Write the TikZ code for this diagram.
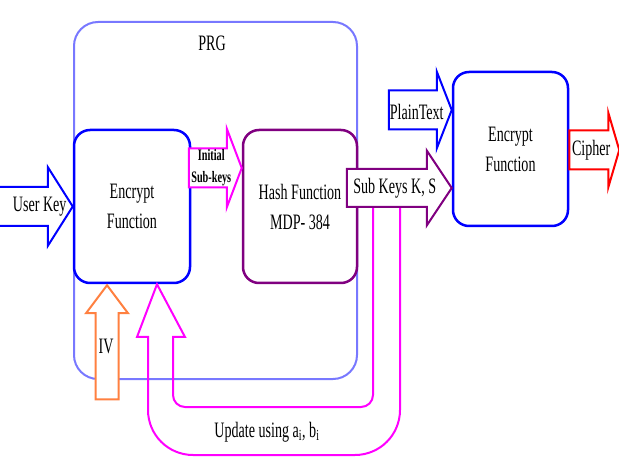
\documentclass[tikz,border=0pt]{standalone}
\usepackage{fontspec}
\setmainfont{Liberation Serif}[FakeStretch=0.64]
\usetikzlibrary{calc}

\definecolor{prgblue}{RGB}{120,120,255}
\definecolor{keypurple}{RGB}{128,0,128}
\definecolor{ivorange}{RGB}{255,128,64}
\definecolor{updmagenta}{RGB}{255,0,255}

% block arrow: style, tip, angle, length, shaft half width, head half width, head length
\newcommand\blockarrow[7]{%
  \draw[#1, shift={(#2)}, rotate=#3] (0,0) -- (-#7,-#6) -- (-#7,-#5) -- (-#4,-#5)
    -- (-#4,#5) -- (-#7,#5) -- (-#7,#6) -- cycle;}

\begin{document}
\begin{tikzpicture}[x=1pt, y=-1pt,
    every node/.style={font=\fontsize{22}{30}\selectfont},
    fnbox/.style={draw, rectangle, rounded corners=16pt, line width=2.5pt,
      minimum width=116pt, minimum height=153pt, align=center, fill=white},
    blockline/.style={line width=2pt, fill=white, line join=miter}]
  \useasboundingbox (0,0) rectangle (619,457);

  % PRG block
  \node[draw=prgblue, line width=2pt, rounded corners=24pt, minimum width=283pt,
    minimum height=357pt] (prg) at (215.5,200.5) {};
  \node (prgtitle) at (212,43) {PRG};

  % Function blocks
  \node[fnbox, draw=blue] (enc1) at (132,206.5) {Encrypt\\Function};
  \node[fnbox, draw=keypurple, right of=enc1, node distance=168pt, minimum width=114pt] (hash) {Hash Function\\MDP- 384};
  \node[fnbox, draw=blue, minimum width=115pt, minimum height=154pt] (enc2) at (510.5,149) {Encrypt\\Function};

  % Feedback
  \coordinate (updtip) at ($(enc1.south)+(25,0)$);
  \draw[updmagenta, line width=2pt] (updtip) -- (185,337) -- (173,337)
    [rounded corners=12pt] -- (173,407) -- (373,407) [sharp corners] -- (373,200) -- (400,200)
    [rounded corners=45pt] -- (400,455) -- (148,455) [sharp corners] -- (148,337) -- (137,337) -- cycle;
  \node (update) at (267,432) {Update using a\textsubscript{i}, b\textsubscript{i}};

  % Arrows
  \blockarrow{blockline, draw=ivorange}{$(enc1.south)+(-25,1)$}{90}{114}{11.5}{21}{28}
  \node (iv) at ($(enc1.south)+(-26,62)$) {IV};

  \blockarrow{blockline, draw=blue}{enc1.west}{0}{90}{19.5}{39.5}{25}
  \node (userkey) at ($(enc1.west)+(-33,0)$) {User Key};

  \blockarrow{blockline, draw=updmagenta}{$(hash.west)+(0,-38.5)$}{0}{53}{19.5}{39.5}{15}
  \node[font=\fontsize{16}{22}\selectfont\bfseries, align=center] (initkeys)
    at ($(hash.west)+(-30.5,-38.5)$) {Initial\\Sub-keys};

  \blockarrow{blockline, draw=keypurple}{$(enc2.west)+(0,39)$}{0}{105}{19}{37.5}{25}
  \node (subkeys) at ($(enc2.west)+(-57,39)$) {Sub Keys K, S};

  \blockarrow{blockline, draw=blue}{$(enc2.west)+(0,-39)$}{0}{63}{19.5}{38.5}{15}
  \node (plaintext) at ($(enc2.west)+(-35,-37)$) {PlainText};

  \blockarrow{blockline, draw=red}{$(enc2.east)+(50,1)$}{0}{50}{19.5}{37.5}{11}
  \node (cipher) at ($(enc2.east)+(22,1)$) {Cipher};

\end{tikzpicture}
\end{document}
